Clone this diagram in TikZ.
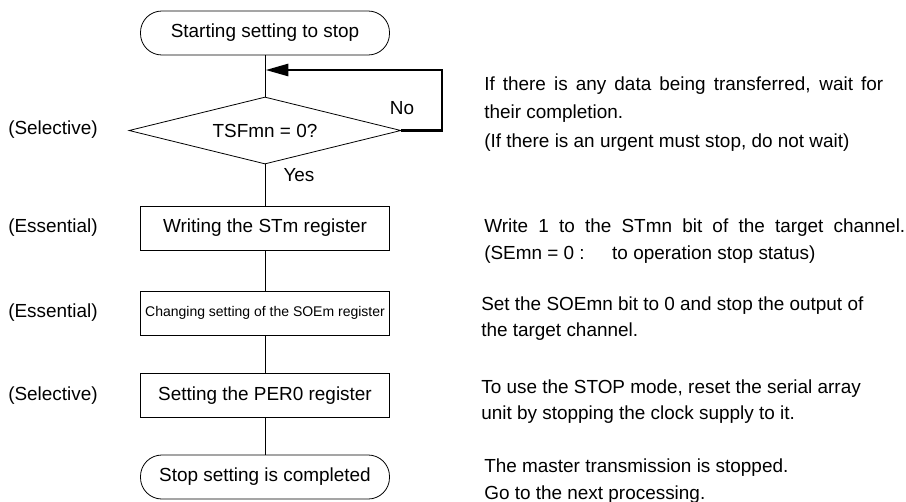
\documentclass[tikz,border=0pt]{standalone}
\usepackage{fontspec}
\setmainfont{Liberation Sans}
\usetikzlibrary{shapes.geometric,arrows.meta}

\begin{document}
\begin{tikzpicture}[
  x=0.75pt,
  y=-0.75pt,
  every node/.style={font=\fontsize{14.2}{17}\selectfont, inner sep=0pt},
  flowline/.style={black, line width=0.6pt},
  loopline/.style={black, line width=1.6pt},
  terminal/.style={draw, line width=0.6pt, rounded corners=16pt, minimum width=186.75pt, minimum height=33pt},
  procbox/.style={draw, line width=0.6pt, minimum width=186.75pt, minimum height=33pt},
  decision/.style={draw, diamond, line width=0.6pt, minimum width=204pt, minimum height=50.25pt, aspect=4},
  sidenote/.style={anchor=west},
  remark/.style={anchor=base west}
]
  \useasboundingbox (0,0) rectangle (906,501);

  % flow chart
  \node[terminal] (start) at (265,33) {Starting setting to stop};
  \node[decision] (check) at (265,130.5) {TSFmn = 0?};
  \node[procbox] (stm) at (265,228) {Writing the STm register};
  \node[procbox, font=\fontsize{10.5}{12}\selectfont] (soem) at (265,313) {Changing setting of the SOEm register};
  \node[procbox] (per) at (265,395.5) {Setting the PER0 register};
  \node[terminal] (done) at (265,477) {Stop setting is completed};

  \draw[flowline] (start) -- (check);
  \draw[flowline] (check) -- (stm);
  \draw[flowline] (stm) -- (soem);
  \draw[flowline] (soem) -- (per);
  \draw[flowline] (per) -- (done);

  \coordinate (loopin) at (265.8,70);
  \draw[loopline, -{Triangle[length=17pt,width=9.2pt]}] (check.east) -- ++(41,0) |- (loopin);
  \node (no) at (402,108) {No};
  \node (yes) at (299,175) {Yes};

  % left column
  \node[sidenote] (sel1) at (8,130) {(Selective)};
  \node[sidenote] (ess1) at (8,228) {(Essential)};
  \node[sidenote] (ess2) at (8,313) {(Essential)};
  \node[sidenote] (sel2) at (8,395.5) {(Selective)};

  % right column
  \node[remark] (waita) at (484,90) {\makebox[299.25pt][s]{If there is any data being transferred, wait for}};
  \node[remark] (waitb) at (484,118) {their completion.};
  \node[remark] (waitc) at (484,147) {(If there is an urgent must stop, do not wait)};
  \node[remark] (stma) at (484,232) {\makebox[315.75pt][s]{Write 1 to the STmn bit of the target channel.}};
  \node[remark] (stmb) at (484,259) {(SEmn = 0 :\hspace{1.45em}to operation stop status)};
  \node[remark] (soema) at (481,310) {Set the SOEmn bit to 0 and stop the output of};
  \node[remark] (soemb) at (481,336) {the target channel.};
  \node[remark] (pera) at (481,393) {To use the STOP mode, reset the serial array};
  \node[remark] (perb) at (481,419) {unit by stopping the clock supply to it.};
  \node[remark] (donea) at (484,472.5) {The master transmission is stopped.};
  \node[remark] (doneb) at (484,499) {Go to the next processing.};
\end{tikzpicture}
\end{document}
